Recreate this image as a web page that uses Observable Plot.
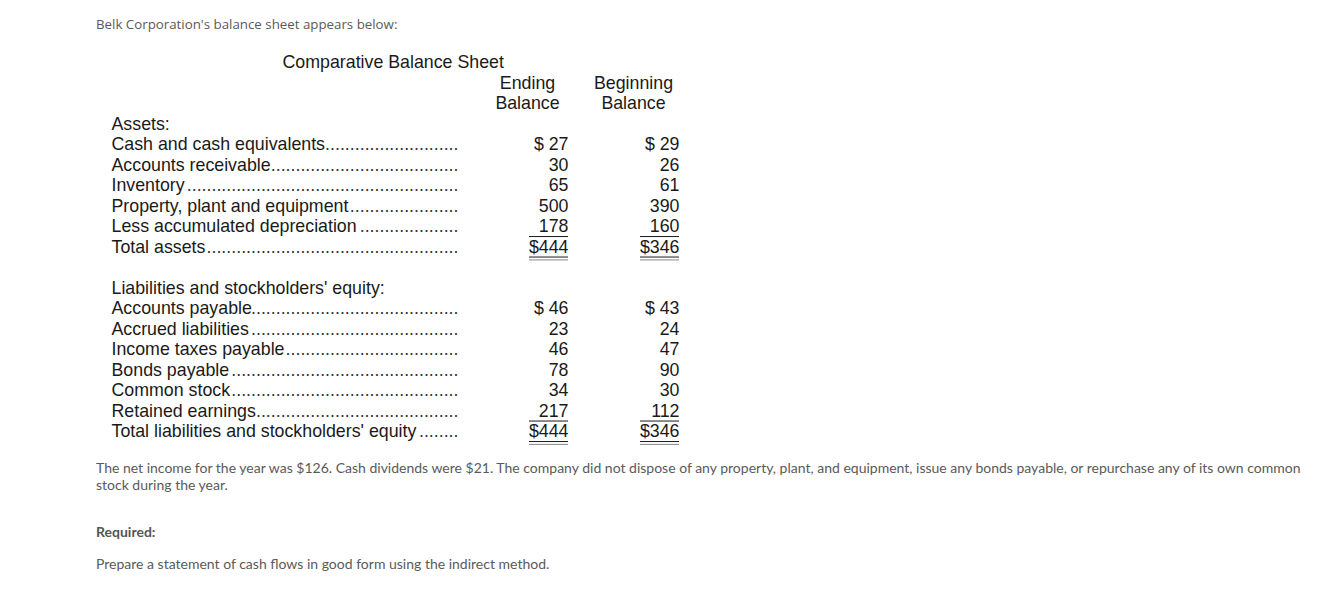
<!DOCTYPE html>
<html>
<head>
<meta charset="utf-8">
<script src="https://cdn.jsdelivr.net/npm/d3@7"></script>
<script src="https://cdn.jsdelivr.net/npm/@observablehq/plot@0.6"></script>
<style>
  html, body { margin: 0; padding: 0; background: #fff; }
  body { width: 1338px; height: 593px; position: relative; overflow: hidden; }
  .prose { position: absolute; left: 96px; font-family: Lato, "Open Sans", sans-serif; font-size: 14px; color: #5a5a5a; white-space: nowrap; line-height: 17px; }
  #intro { font-family: "Open Sans", Lato, sans-serif; font-size: 13.3px; letter-spacing: 0; }
  #chart { position: absolute; left: 0; top: 50px; }
</style>
</head>
<body>
<div class="prose" id="intro" style="top:16px;"></div>
<div id="chart"></div>
<div class="prose" id="caption" style="top:459px;"></div>
<div class="prose" id="req" style="top:523px; font-weight:700; color:#555;"></div>
<div class="prose" id="task" style="top:555px;"></div>
<script>
// ---- data ----
const introText = "Belk Corporation's balance sheet appears below:";
const title = "Comparative Balance Sheet";
const columnHeaders = [["Ending", "Balance"], ["Beginning", "Balance"]];
const assetsHeader = "Assets:";
const assetLabels = ["Cash and cash equivalents", "Accounts receivable", "Inventory", "Property, plant and equipment", "Less accumulated depreciation", "Total assets"];
const assetsEnding = [27, 30, 65, 500, 178, 444];
const assetsBeginning = [29, 26, 61, 390, 160, 346];
const liabHeader = "Liabilities and stockholders' equity:";
const liabLabels = ["Accounts payable", "Accrued liabilities", "Income taxes payable", "Bonds payable", "Common stock", "Retained earnings", "Total liabilities and stockholders' equity"];
const liabEnding = [46, 23, 46, 78, 34, 217, 444];
const liabBeginning = [43, 24, 47, 90, 30, 112, 346];
const captionLines = ["The net income for the year was $126. Cash dividends were $21. The company did not dispose of any property, plant, and equipment, issue any bonds payable, or repurchase any of its own common", "stock during the year."];
const requiredText = "Required:";
const taskText = "Prepare a statement of cash flows in good form using the indirect method.";

// ---- layout ----
const FONT = "17.8px 'Liberation Sans', Arial, sans-serif";
const labelX = 111, leaderEnd = 458, endX = 568, begX = 679, endHdr = 527, begHdr = 633, titleX = 282;
const ulWidth = 39;

// build rows
const rows = [];
function section(labels, ending, beginning, start) {
  labels.forEach((label, i) => {
    const last = i === labels.length - 1;
    const first = i === 0;
    const fmt = v => last ? `$${v}` : first ? `$ ${v}` : `${v}`;
    rows.push({row: start + i, label, ending: fmt(ending[i]), beginning: fmt(beginning[i]),
      underline: i === labels.length - 2 ? 1 : last ? 2 : 0});
  });
}
section(assetLabels, assetsEnding, assetsBeginning, 4);
section(liabLabels, liabEnding, liabBeginning, 12);

// dot leaders measured with the same font
const ctx = document.createElement("canvas").getContext("2d");
ctx.font = FONT;
const dotW = ctx.measureText(".").width;
rows.forEach(r => {
  const w = ctx.measureText(r.label).width;
  const n = Math.max(0, Math.round((leaderEnd - labelX - w - 1) / dotW));
  r.dots = ".".repeat(n);
});

const headerRows = [
  {row: 0, x: titleX, text: title, anchor: "start"},
  {row: 1, x: endHdr, text: columnHeaders[0][0], anchor: "middle"},
  {row: 2, x: endHdr, text: columnHeaders[0][1], anchor: "middle"},
  {row: 1, x: begHdr, text: columnHeaders[1][0], anchor: "middle"},
  {row: 2, x: begHdr, text: columnHeaders[1][1], anchor: "middle"},
  {row: 3, x: labelX, text: assetsHeader, anchor: "start"},
  {row: 11, x: labelX, text: liabHeader, anchor: "start"}
];

const underlines = [];
rows.filter(r => r.underline).forEach(r => {
  for (const xr of [endX, begX]) {
    underlines.push({row: r.row + 0.49, x1: xr - ulWidth, x2: xr, stroke: "#1a1a1a"});
    if (r.underline === 2) underlines.push({row: r.row + 0.63, x1: xr - ulWidth, x2: xr, stroke: "#8a8a8a"});
  }
});

const textStyle = {fontFamily: "'Liberation Sans', Arial, sans-serif", fontSize: 17.8, fill: "#1a1a1a"};

const chart = Plot.plot({
  width: 1338,
  height: 400,
  margin: 0,
  x: {domain: [0, 1338], range: [0, 1338], axis: null},
  y: {domain: [0, 18], range: [12, 381], axis: null},
  style: {background: "transparent", overflow: "visible"},
  marks: [
    Plot.text(headerRows.filter(d => d.anchor === "start"), {x: "x", y: "row", text: "text", textAnchor: "start", ...textStyle}),
    Plot.text(headerRows.filter(d => d.anchor === "middle"), {x: "x", y: "row", text: "text", textAnchor: "middle", ...textStyle}),
    Plot.text(rows, {x: () => labelX, y: "row", text: "label", textAnchor: "start", ...textStyle}),
    Plot.text(rows, {x: () => leaderEnd, y: "row", text: "dots", textAnchor: "end", ...textStyle, fill: "#333"}),
    Plot.text(rows, {x: () => endX, y: "row", text: "ending", textAnchor: "end", ...textStyle}),
    Plot.text(rows, {x: () => begX, y: "row", text: "beginning", textAnchor: "end", ...textStyle}),
    Plot.ruleY(underlines, {y: "row", x1: "x1", x2: "x2", stroke: "stroke", strokeWidth: 1})
  ]
});
document.getElementById("chart").appendChild(chart);

document.getElementById("intro").textContent = introText;
document.getElementById("caption").innerHTML = captionLines.join("<br>");
document.getElementById("req").textContent = requiredText;
document.getElementById("task").textContent = taskText;
</script>
</body>
</html>
